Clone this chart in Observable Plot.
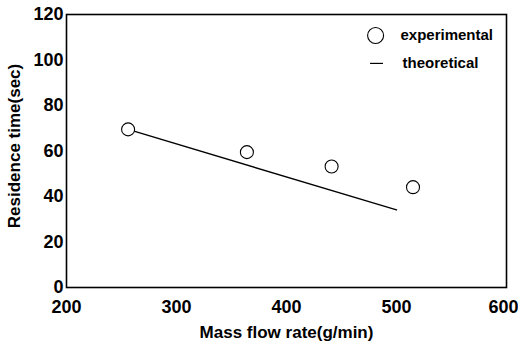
<!DOCTYPE html>
<html><head><meta charset="utf-8">
<script src="https://cdn.jsdelivr.net/npm/d3@7"></script>
<script src="https://cdn.jsdelivr.net/npm/@observablehq/plot@0.6"></script>
<style>body{margin:0;background:#fff}</style>
</head><body><div id="chart"></div>
<script>
const expFlow = [256, 364, 441, 515];
const expTime = [69.5, 59.5, 53.2, 44.1];
const theoFlow = [256, 500];
const theoTime = [69.5, 34.1];
const xTicks = [200, 300, 400, 500, 600];
const yTicks = [0, 20, 40, 60, 80, 100, 120];
const legendLabels = ["experimental", "theoretical"];

const exp = expFlow.map((x, i) => ({x, y: expTime[i]}));
const theo = theoFlow.map((x, i) => ({x, y: theoTime[i]}));
const font = "'Liberation Sans', Arial, sans-serif";

const plot = Plot.plot({
  width: 518, height: 351,
  marginLeft: 66, marginRight: 12, marginTop: 14, marginBottom: 64,
  style: {fontFamily: font, background: "#fff", color: "#000"},
  x: {domain: [200, 600], label: null},
  y: {domain: [0, 120], label: null},
  marks: [
    Plot.frame({stroke: "#000", strokeWidth: 1.6}),
    Plot.axisX({ticks: xTicks.slice(0, -1), tickSize: 0, tickPadding: 13, fontSize: 18, fontWeight: "bold", label: null}),
    Plot.axisX({ticks: xTicks.slice(-1), tickSize: 0, tickPadding: 13, dx: -3, fontSize: 18, fontWeight: "bold", label: null}),
    Plot.axisY({ticks: yTicks, tickSize: 0, tickPadding: 3, fontSize: 18, fontWeight: "bold", label: null}),
    Plot.line(theo, {x: "x", y: "y", stroke: "#000", strokeWidth: 1.4}),
    Plot.dot(exp, {x: "x", y: "y", r: 6.5, stroke: "#000", strokeWidth: 1.1, fill: "#fff"}),
    Plot.dot([{x: 481, y: 110.8}], {x: "x", y: "y", r: 8, stroke: "#000", strokeWidth: 1.1, fill: "#fff"}),
    Plot.text([{x: 503.6, y: 110.8, t: legendLabels[0]}], {x: "x", y: "y", text: "t", textAnchor: "start", fontSize: 15, fontWeight: "bold", fontFamily: font}),
    Plot.ruleY([{x1: 476.4, x2: 488.2, y: 98.5}], {x1: "x1", x2: "x2", y: "y", stroke: "#000", strokeWidth: 1.2}),
    Plot.text([{x: 505.5, y: 98.5, t: legendLabels[1]}], {x: "x", y: "y", text: "t", textAnchor: "start", fontSize: 15, fontWeight: "bold", fontFamily: font}),
    Plot.text(["Mass flow rate(g/min)"], {frameAnchor: "bottom", dy: 50, text: d => d, fontSize: 17, fontWeight: "bold", fontFamily: font}),
    Plot.text(["Residence time(sec)"], {frameAnchor: "left", textAnchor: "middle", dx: -52, dy: -5, rotate: -90, text: d => d, fontSize: 17, fontWeight: "bold", fontFamily: font})
  ]
});
document.getElementById("chart").appendChild(plot);
</script></body></html>
